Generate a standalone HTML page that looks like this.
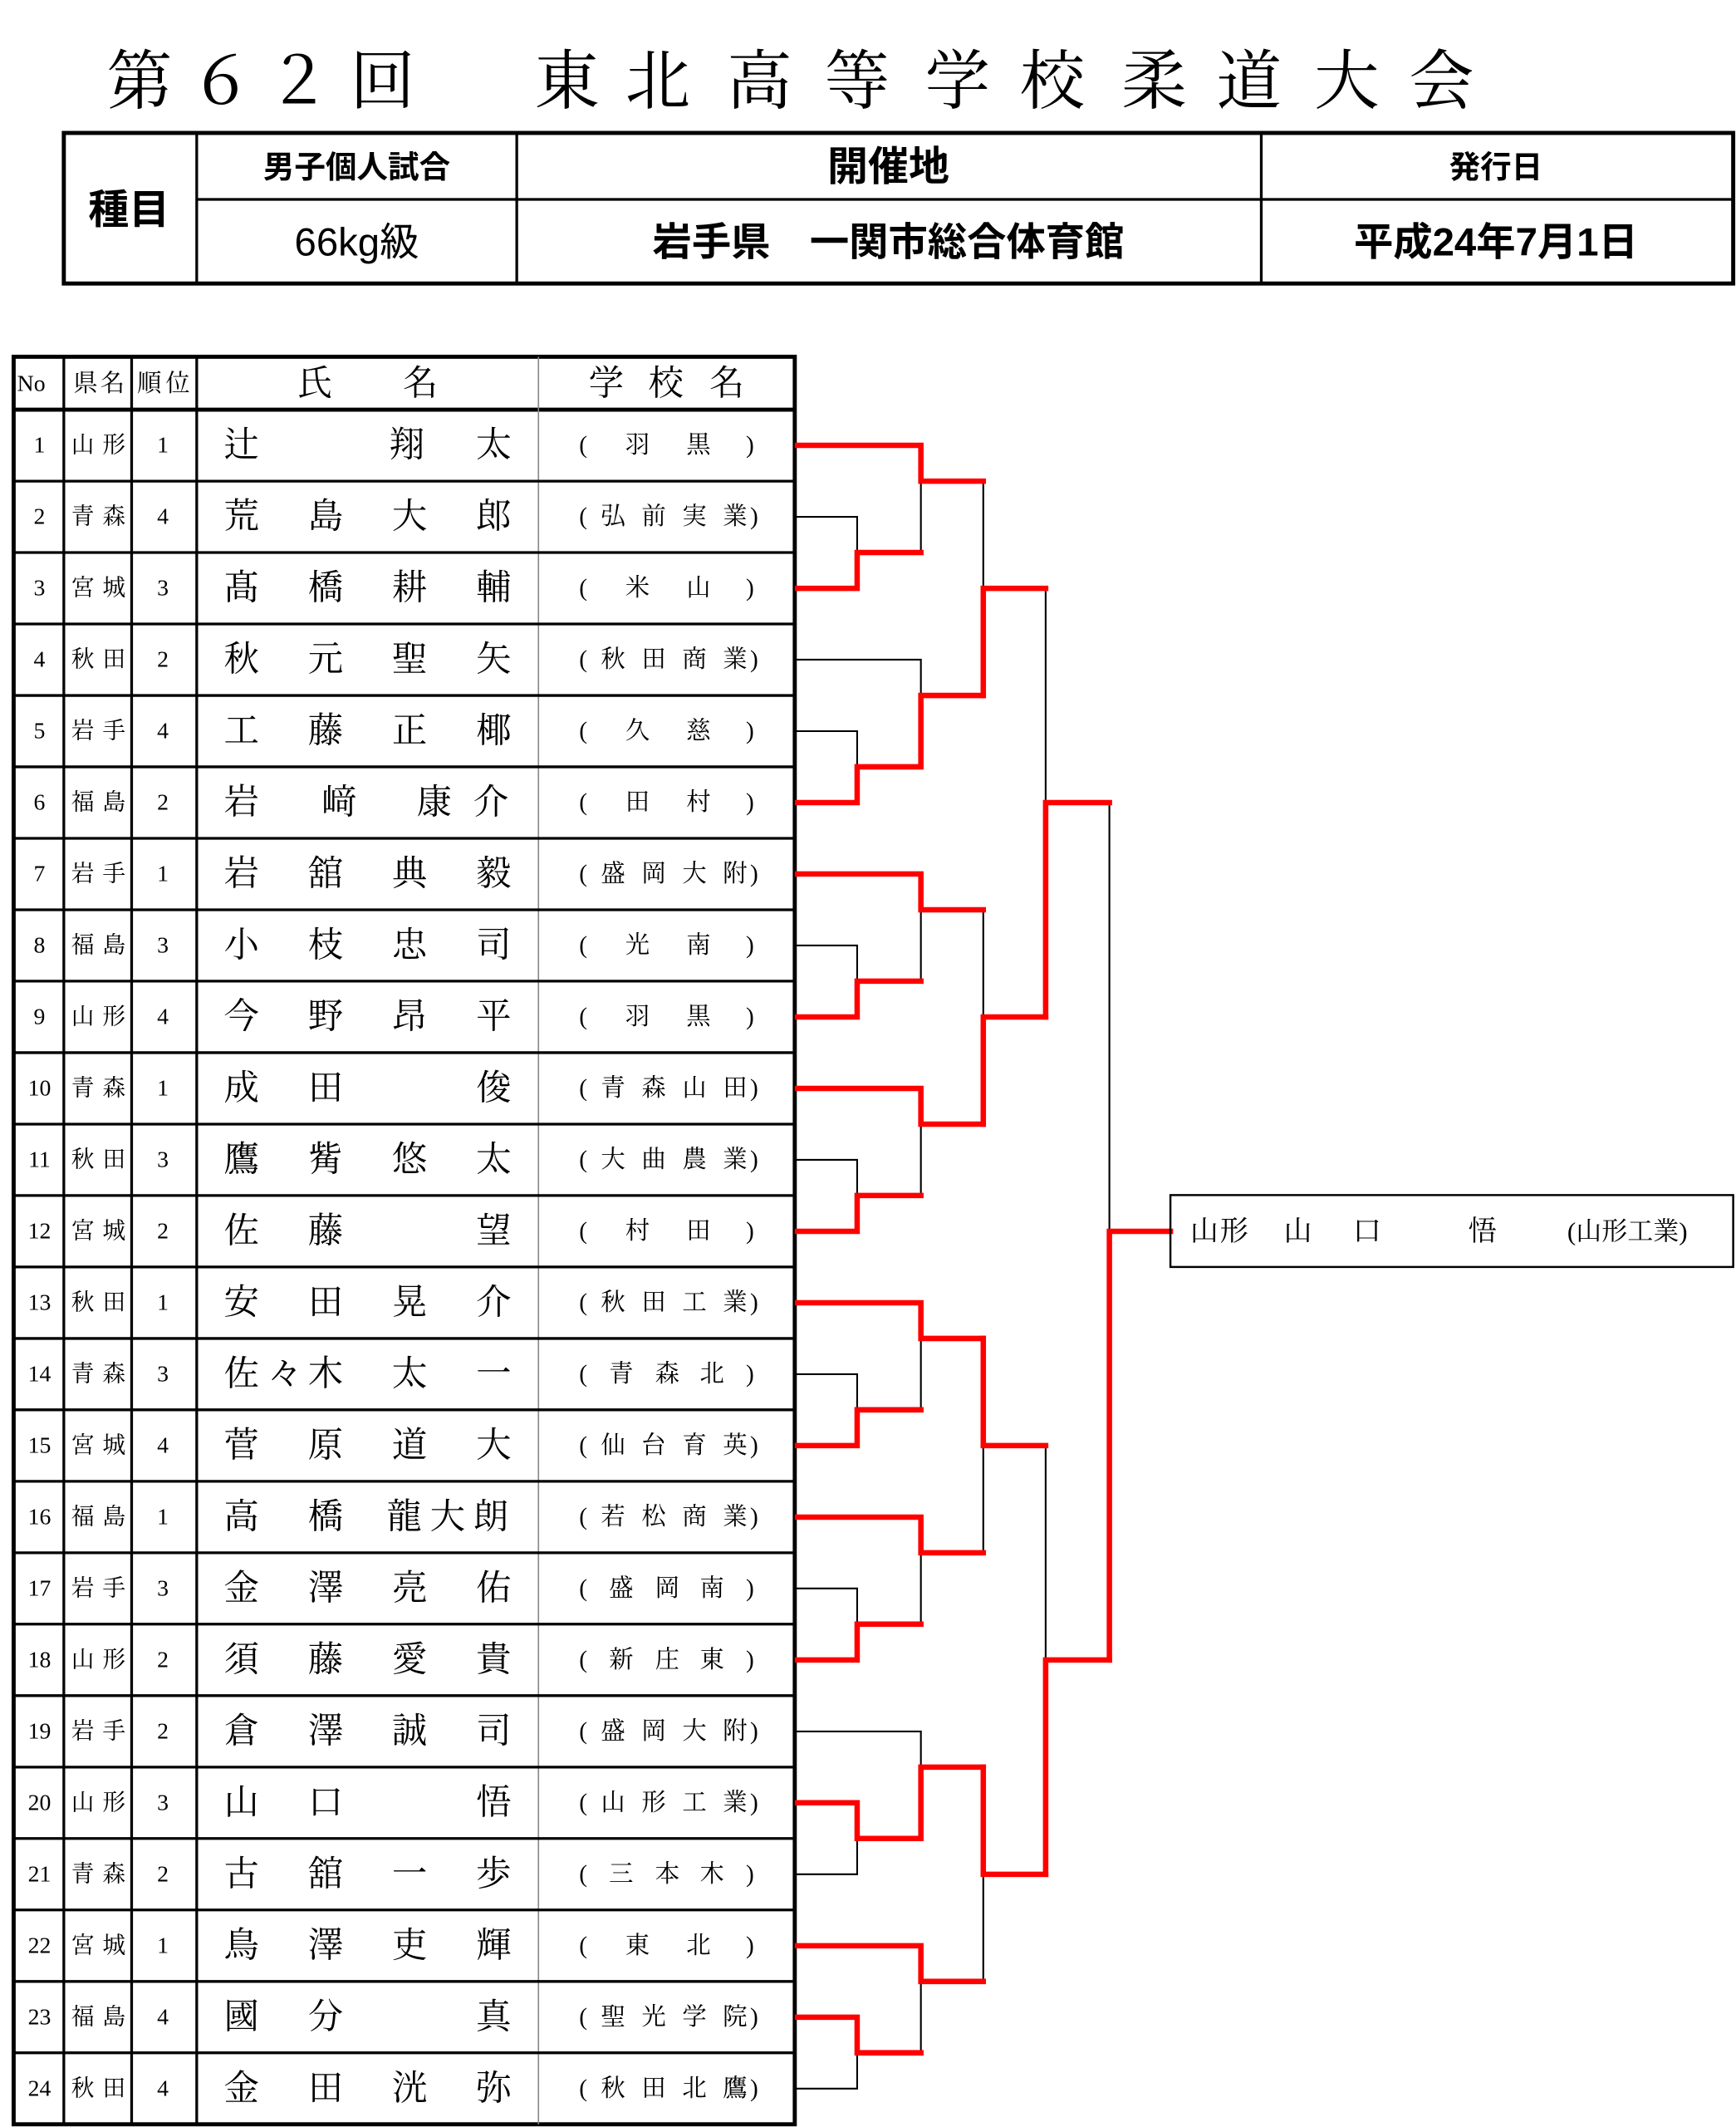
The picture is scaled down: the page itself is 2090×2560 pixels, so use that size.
<!DOCTYPE html>
<html><head><meta charset="utf-8"><style>
html,body{margin:0;padding:0;background:#fff;}
svg{display:block;}
.s{font-family:"Liberation Serif","Noto Serif CJK JP",serif;}
.g{font-family:"Liberation Sans","Noto Sans CJK JP",sans-serif;font-weight:bold;}
</style></head><body>
<svg width="2090" height="2560" viewBox="0 0 1280 1568" xmlns="http://www.w3.org/2000/svg">
<rect width="1280" height="1568" fill="#fff"/>
<!-- title -->
<text class="s" font-size="48" y="60" dominant-baseline="central" text-anchor="middle" x="103 163 220 282 418 485 560 632 706 776 851 921 993 1063">第６２回東北高等学校柔道大会</text>
<!-- header box -->
<g fill="none" stroke="#000">
<rect x="47" y="98" width="1231" height="111" stroke-width="3"/>
<path d="M145,98V209M381,98V209M930,98V209M145,147H1278" stroke-width="2"/>
</g>
<g class="g" text-anchor="middle" dominant-baseline="central">
<text x="95" y="155" font-size="30">種目</text>
<text x="263" y="123" font-size="23">男子個人試合</text>
<text x="263" y="179" font-size="29" font-weight="normal">66kg級</text>
<text x="655" y="123" font-size="30">開催地</text>
<text x="655" y="179" font-size="29">岩手県　一関市総合体育館</text>
<text x="1103" y="123" font-size="23">発行日</text>
<text x="1103" y="179" font-size="29">平成24年7月1日</text>
</g>
<!-- table -->
<g fill="none" stroke="#000">
<rect x="10" y="263" width="576" height="1303" stroke-width="3"/>
<path d="M10,302H586" stroke-width="3"/>
<path d="M47,263V1566M97,263V1566M145,263V1566" stroke-width="2"/>
<path d="M397,263V1566" stroke-width="1" stroke="#888"/>
<path d="M10,354.7H586M10,407.3H586M10,460H586M10,512.7H586M10,565.3H586M10,618H586M10,670.7H586M10,723.3H586M10,776H586M10,828.7H586M10,881.3H586M10,934H586M10,986.7H586M10,1039.3H586M10,1092H586M10,1144.7H586M10,1197.3H586M10,1250H586M10,1302.7H586M10,1355.3H586M10,1408H586M10,1460.7H586M10,1513.3H586" stroke-width="2"/>
</g>
<g class="s" text-anchor="middle" dominant-baseline="central" fill="#000">
<text x="23" y="283" font-size="17">No</text>
<text x="63 83" y="283" font-size="18">県名</text>
<text x="110 131" y="283" font-size="18">順位</text>
<text x="232 310" y="283" font-size="26">氏名</text>
<text x="447 491 536" y="283" font-size="26">学校名</text>
</g>
<!-- rows -->
<g class="s" text-anchor="middle" dominant-baseline="central" font-size="17">
<text x="29" y="328.3">1</text><text x="29" y="381">2</text><text x="29" y="433.7">3</text><text x="29" y="486.3">4</text><text x="29" y="539">5</text><text x="29" y="591.7">6</text><text x="29" y="644.3">7</text><text x="29" y="697">8</text><text x="29" y="749.7">9</text><text x="29" y="802.4">10</text><text x="29" y="855">11</text><text x="29" y="907.7">12</text><text x="29" y="960.4">13</text><text x="29" y="1013">14</text><text x="29" y="1065.7">15</text><text x="29" y="1118.4">16</text><text x="29" y="1171">17</text><text x="29" y="1223.7">18</text><text x="29" y="1276.4">19</text><text x="29" y="1329">20</text><text x="29" y="1381.7">21</text><text x="29" y="1434.4">22</text><text x="29" y="1487.1">23</text><text x="29" y="1539.7">24</text>
<text x="61 84" y="328.3">山形</text><text x="61 84" y="381">青森</text><text x="61 84" y="433.7">宮城</text><text x="61 84" y="486.3">秋田</text><text x="61 84" y="539">岩手</text><text x="61 84" y="591.7">福島</text><text x="61 84" y="644.3">岩手</text><text x="61 84" y="697">福島</text><text x="61 84" y="749.7">山形</text><text x="61 84" y="802.4">青森</text><text x="61 84" y="855">秋田</text><text x="61 84" y="907.7">宮城</text><text x="61 84" y="960.4">秋田</text><text x="61 84" y="1013">青森</text><text x="61 84" y="1065.7">宮城</text><text x="61 84" y="1118.4">福島</text><text x="61 84" y="1171">岩手</text><text x="61 84" y="1223.7">山形</text><text x="61 84" y="1276.4">岩手</text><text x="61 84" y="1329">山形</text><text x="61 84" y="1381.7">青森</text><text x="61 84" y="1434.4">宮城</text><text x="61 84" y="1487.1">福島</text><text x="61 84" y="1539.7">秋田</text>
<text x="120" y="328.3">1</text><text x="120" y="381">4</text><text x="120" y="433.7">3</text><text x="120" y="486.3">2</text><text x="120" y="539">4</text><text x="120" y="591.7">2</text><text x="120" y="644.3">1</text><text x="120" y="697">3</text><text x="120" y="749.7">4</text><text x="120" y="802.4">1</text><text x="120" y="855">3</text><text x="120" y="907.7">2</text><text x="120" y="960.4">1</text><text x="120" y="1013">3</text><text x="120" y="1065.7">4</text><text x="120" y="1118.4">1</text><text x="120" y="1171">3</text><text x="120" y="1223.7">2</text><text x="120" y="1276.4">2</text><text x="120" y="1329">3</text><text x="120" y="1381.7">2</text><text x="120" y="1434.4">1</text><text x="120" y="1487.1">4</text><text x="120" y="1539.7">4</text>
</g>
<g class="s" text-anchor="middle" dominant-baseline="central" font-size="26">
<text x="178 300 364" y="328.3">辻翔太</text>
<text x="178 240 302 364" y="381">荒島大郎</text>
<text x="178 240 302 364" y="433.7">髙橋耕輔</text>
<text x="178 240 302 364" y="486.3">秋元聖矢</text>
<text x="178 240 302 364" y="539">工藤正椰</text>
<text x="178 250 320 362" y="591.7">岩﨑康介</text>
<text x="178 240 302 364" y="644.3">岩舘典毅</text>
<text x="178 240 302 364" y="697">小枝忠司</text>
<text x="178 240 302 364" y="749.7">今野昂平</text>
<text x="178 240 364" y="802.4">成田俊</text>
<text x="178 240 302 364" y="855">鷹觜悠太</text>
<text x="178 240 364" y="907.7">佐藤望</text>
<text x="178 240 302 364" y="960.4">安田晃介</text>
<text x="178 210 240 302 364" y="1013">佐々木太一</text>
<text x="178 240 302 364" y="1065.7">菅原道大</text>
<text x="178 240 298 330 362" y="1118.4">高橋龍大朗</text>
<text x="178 240 302 364" y="1171">金澤亮佑</text>
<text x="178 240 302 364" y="1223.7">須藤愛貴</text>
<text x="178 240 302 364" y="1276.4">倉澤誠司</text>
<text x="178 240 364" y="1329">山口悟</text>
<text x="178 240 302 364" y="1381.7">古舘一歩</text>
<text x="178 240 302 364" y="1434.4">鳥澤吏輝</text>
<text x="178 240 364" y="1487.1">國分真</text>
<text x="178 240 302 364" y="1539.7">金田洸弥</text>
</g>
<g class="s" text-anchor="middle" dominant-baseline="central" font-size="18">
<text x="430 470 515 553" y="328.3">(羽黒)</text>
<text x="430 452 482 512 542 556" y="381">(弘前実業)</text>
<text x="430 470 515 553" y="433.7">(米山)</text>
<text x="430 452 482 512 542 556" y="486.3">(秋田商業)</text>
<text x="430 470 515 553" y="539">(久慈)</text>
<text x="430 470 515 553" y="591.7">(田村)</text>
<text x="430 452 482 512 542 556" y="644.3">(盛岡大附)</text>
<text x="430 470 515 553" y="697">(光南)</text>
<text x="430 470 515 553" y="749.7">(羽黒)</text>
<text x="430 452 482 512 542 556" y="802.4">(青森山田)</text>
<text x="430 452 482 512 542 556" y="855">(大曲農業)</text>
<text x="430 470 515 553" y="907.7">(村田)</text>
<text x="430 452 482 512 542 556" y="960.4">(秋田工業)</text>
<text x="430 458 492 525 553" y="1013">(青森北)</text>
<text x="430 452 482 512 542 556" y="1065.7">(仙台育英)</text>
<text x="430 452 482 512 542 556" y="1118.4">(若松商業)</text>
<text x="430 458 492 525 553" y="1171">(盛岡南)</text>
<text x="430 458 492 525 553" y="1223.7">(新庄東)</text>
<text x="430 452 482 512 542 556" y="1276.4">(盛岡大附)</text>
<text x="430 452 482 512 542 556" y="1329">(山形工業)</text>
<text x="430 458 492 525 553" y="1381.7">(三本木)</text>
<text x="430 470 515 553" y="1434.4">(東北)</text>
<text x="430 452 482 512 542 556" y="1487.1">(聖光学院)</text>
<text x="430 452 482 512 542 556" y="1539.7">(秋田北鷹)</text>
</g>
<!-- bracket black skeleton -->
<g fill="none" stroke="#000" stroke-width="1.3">
<path d="M586,381H632V433.7H586M586,328.3H679V407.3H632M679,354.7H725"/>
<path d="M586,539H632V591.7H586M586,486.3H679V565.3H632M679,512.7H725"/>
<path d="M586,697H632V749.7H586M586,644.3H679V723.3H632M679,670.7H725"/>
<path d="M586,855H632V907.7H586M586,802.4H679V881.3H632M679,828.7H725"/>
<path d="M586,1013H632V1065.7H586M586,960.4H679V1039.3H632M679,986.7H725"/>
<path d="M586,1171H632V1223.7H586M586,1118.4H679V1197.3H632M679,1144.7H725"/>
<path d="M586,1329H632V1381.7H586M586,1276.4H679V1355.3H632M679,1302.7H725"/>
<path d="M586,1487.1H632V1539.7H586M586,1434.4H679V1513.3H632M679,1460.7H725"/>
<path d="M725,354.7V512.7M725,433.7H771M725,670.7V828.7M725,749.7H771M725,986.7V1144.7M725,1065.7H771M725,1302.7V1460.7M725,1381.7H771"/>
<path d="M771,433.7V749.7M771,591.7H818M771,1065.7V1381.7M771,1223.7H818"/>
<path d="M818,591.7V1223.7M818,907.7H863"/>
</g>
<!-- red winners -->
<g fill="none" stroke="#f00" stroke-width="4" stroke-linejoin="miter" stroke-linecap="square">
<path d="M588,433.7H632V407.3H679"/><path d="M588,328.3H679V354.7H725"/>
<path d="M588,591.7H632V565.3H679V512.7H725"/>
<path d="M588,749.7H632V723.3H679"/><path d="M588,644.3H679V670.7H725"/>
<path d="M588,907.7H632V881.3H679"/><path d="M588,802.4H679V828.7H725"/>
<path d="M588,1065.7H632V1039.3H679"/><path d="M588,960.4H679V986.7H725"/>
<path d="M588,1223.7H632V1197.3H679"/><path d="M588,1118.4H679V1144.7H725"/>
<path d="M588,1329H632V1355.3H679V1302.7H725"/>
<path d="M588,1487.1H632V1513.3H679"/><path d="M588,1434.4H679V1460.7H725"/>
<path d="M725,512.7V433.7H771"/><path d="M725,828.7V749.7H771"/>
<path d="M725,986.7V1065.7H771"/><path d="M725,1302.7V1381.7H771"/>
<path d="M771,749.7V591.7H818"/><path d="M771,1381.7V1223.7H818"/>
<path d="M818,1223.7V907.7H863"/>
</g>
<!-- winner box -->
<rect x="863" y="881" width="415" height="53" fill="none" stroke="#000" stroke-width="1.5"/>
<g class="s" dominant-baseline="central" font-size="21" text-anchor="middle">
<text x="888 910 957 1008 1093" y="907.7">山形山口悟</text>
<text x="1200" y="907.7" font-size="19">(山形工業)</text>
</g>
</svg>
</body></html>
